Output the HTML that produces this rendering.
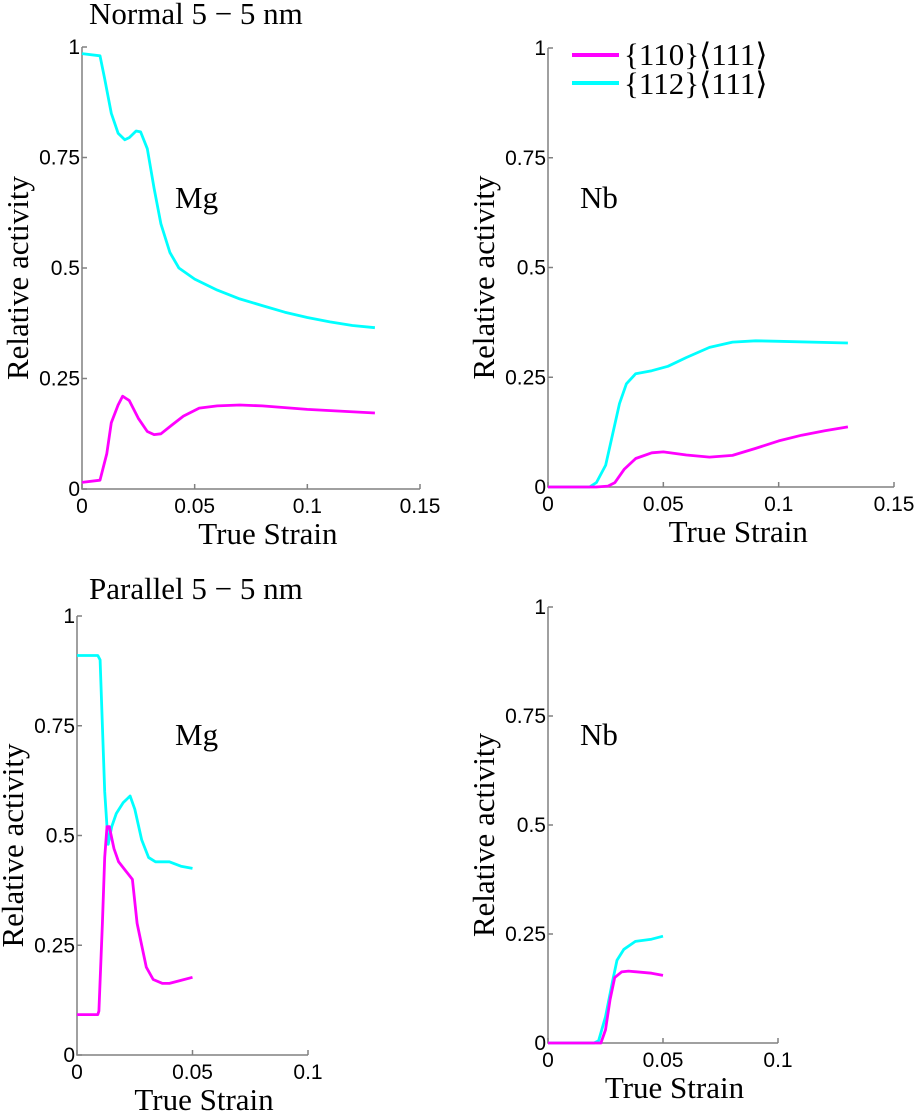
<!DOCTYPE html>
<html><head><meta charset="utf-8"><style>
html,body{margin:0;padding:0;background:#fff;}
svg{display:block;}
.tk{font-family:"Liberation Sans",sans-serif;font-size:21px;fill:#000;}
.lb{font-family:"Liberation Serif",serif;font-size:31px;fill:#000;}
</style></head><body>
<svg id="fig" width="917" height="1112" viewBox="0 0 917 1112" xmlns="http://www.w3.org/2000/svg">
<text class="lb" x="89" y="24">Normal 5 − 5 nm</text>
<text class="lb" x="89" y="599">Parallel 5 − 5 nm</text>
<g>
<line x1="572" y1="55" x2="619" y2="55" stroke="#ff00ff" stroke-width="4"/>
<text class="lb" x="624" y="65">{110}⟨111⟩</text>
<line x1="572" y1="83" x2="619" y2="83" stroke="#00ffff" stroke-width="4"/>
<text class="lb" x="624" y="94">{112}⟨111⟩</text>
</g>
</svg>
<script>
// Top-left (Normal, Mg)
const tlCyanX=[0,0.008,0.010,0.013,0.016,0.019,0.021,0.024,0.026,0.029,0.032,0.035,0.039,0.043,0.05,0.06,0.07,0.08,0.09,0.1,0.11,0.12,0.13];
const tlCyanY=[0.985,0.98,0.93,0.85,0.805,0.79,0.795,0.81,0.808,0.77,0.68,0.6,0.535,0.5,0.475,0.45,0.43,0.415,0.4,0.388,0.378,0.37,0.365];
const tlMagX=[0,0.008,0.011,0.013,0.016,0.018,0.021,0.025,0.029,0.032,0.035,0.04,0.045,0.052,0.06,0.07,0.08,0.1,0.13];
const tlMagY=[0.015,0.02,0.08,0.15,0.19,0.21,0.2,0.16,0.13,0.123,0.125,0.145,0.165,0.183,0.188,0.19,0.188,0.18,0.172];
// Top-right (Normal, Nb)
const trCyanX=[0,0.018,0.021,0.025,0.028,0.031,0.034,0.038,0.045,0.052,0.06,0.07,0.08,0.09,0.1,0.13];
const trCyanY=[0,0,0.01,0.05,0.12,0.19,0.235,0.258,0.265,0.275,0.295,0.318,0.33,0.333,0.332,0.328];
const trMagX=[0,0.021,0.026,0.029,0.033,0.038,0.045,0.05,0.06,0.07,0.08,0.09,0.1,0.11,0.12,0.13];
const trMagY=[0,0,0.002,0.01,0.04,0.065,0.078,0.08,0.073,0.068,0.072,0.088,0.105,0.118,0.128,0.137];
// Bottom-left (Parallel, Mg)
const blCyanX=[0,0.009,0.010,0.011,0.012,0.013,0.0135,0.015,0.017,0.02,0.023,0.025,0.028,0.031,0.034,0.04,0.045,0.05];
const blCyanY=[0.91,0.91,0.90,0.75,0.6,0.52,0.48,0.52,0.55,0.575,0.59,0.56,0.49,0.45,0.44,0.44,0.43,0.425];
const blMagX=[0,0.009,0.0095,0.011,0.012,0.013,0.014,0.016,0.018,0.021,0.024,0.026,0.028,0.03,0.033,0.037,0.04,0.045,0.05];
const blMagY=[0.092,0.092,0.1,0.3,0.45,0.52,0.52,0.47,0.44,0.42,0.4,0.3,0.25,0.2,0.172,0.163,0.163,0.17,0.177];
// Bottom-right (Parallel, Nb)
const brCyanX=[0,0.02,0.022,0.025,0.028,0.03,0.033,0.038,0.045,0.05];
const brCyanY=[0,0,0.005,0.06,0.14,0.19,0.215,0.233,0.238,0.245];
const brMagX=[0,0.023,0.025,0.027,0.029,0.032,0.035,0.045,0.05];
const brMagY=[0,0,0.03,0.1,0.15,0.163,0.165,0.16,0.155];
const yTickVals=[0,0.25,0.5,0.75,1];
const yTickLabels=["0","0.25","0.5","0.75","1"];
const xTickValsA=[0,0.05,0.1,0.15];
const xTickLabelsA=["0","0.05","0.1","0.15"];
const xTickValsB=[0,0.05,0.1];
const xTickLabelsB=["0","0.05","0.1"];

const NS="http://www.w3.org/2000/svg";
const svg=document.getElementById('fig');
function mk(tag,attrs,parent){const e=document.createElementNS(NS,tag);for(const k in attrs)e.setAttribute(k,attrs[k]);(parent||svg).appendChild(e);return e;}

function panel(id,x0,x1,xmax,y0,y1,xv,xl,series,label,lx,ly){
  const g=mk('g',{});
  
  
  const sx=v=>x0+(x1-x0)*v/xmax, sy=v=>y0-(y0-y1)*v;
  const ax=mk('path',{d:`M${x0} ${y1}V${y0}H${x1}`,stroke:'#808080','stroke-width':1.5,fill:'none'},g);
  
  
  yTickVals.forEach((v,i)=>{
    const t=mk('line',{x1:x0,x2:x0+5,y1:sy(v),y2:sy(v),stroke:'#808080','stroke-width':1.5},g);
    
    
    const tx=mk('text',{class:'tk',x:x0-2,y:sy(v)+7,'text-anchor':'end'},g);
    tx.textContent=yTickLabels[i];
    
    
  });
  xv.forEach((v,i)=>{
    const t=mk('line',{x1:sx(v),x2:sx(v),y1:y0,y2:y0-5,stroke:'#808080','stroke-width':1.5},g);
    
    
    const tx=mk('text',{class:'tk',x:sx(v),y:y0+24,'text-anchor':'middle'},g);
    tx.textContent=xl[i];
    
    
  });
  const xt=mk('text',{class:'lb',x:x0+(x1-x0)*0.55,y:y0+55,'text-anchor':'middle'},g);
  xt.textContent='True Strain';
  
  
  const yt=mk('text',{class:'lb',x:0,y:0,'text-anchor':'middle',transform:`translate(${x0-54},${(y0+y1)/2+10}) rotate(-90)`},g);
  yt.textContent='Relative activity';
  
  
  const mt=mk('text',{class:'lb',x:lx,y:ly},g);
  mt.textContent=label;
  
  
  series.forEach(s=>{
    const d=s.x.map((v,i)=>(i?'L':'M')+sx(v).toFixed(1)+' '+sy(s.y[i]).toFixed(1)).join('');
    const p=mk('path',{d:d,stroke:s.c,'stroke-width':2.8,fill:'none','stroke-linejoin':'round'},g);
    
    
  });
}
panel('normal-mg',82,420,0.15,489,47,xTickValsA,xTickLabelsA,
  [{x:tlCyanX,y:tlCyanY,c:'#00ffff',n:'112'},{x:tlMagX,y:tlMagY,c:'#ff00ff',n:'110'}],'Mg',175,208);
panel('normal-nb',548,894,0.15,487,48,xTickValsA,xTickLabelsA,
  [{x:trCyanX,y:trCyanY,c:'#00ffff',n:'112'},{x:trMagX,y:trMagY,c:'#ff00ff',n:'110'}],'Nb',580,208);
panel('parallel-mg',77,308,0.1,1055,616,xTickValsB,xTickLabelsB,
  [{x:blCyanX,y:blCyanY,c:'#00ffff',n:'112'},{x:blMagX,y:blMagY,c:'#ff00ff',n:'110'}],'Mg',175,745);
panel('parallel-nb',548,778,0.1,1043,607,xTickValsB,xTickLabelsB,
  [{x:brCyanX,y:brCyanY,c:'#00ffff',n:'112'},{x:brMagX,y:brMagY,c:'#ff00ff',n:'110'}],'Nb',580,745);
</script>
</body></html>
